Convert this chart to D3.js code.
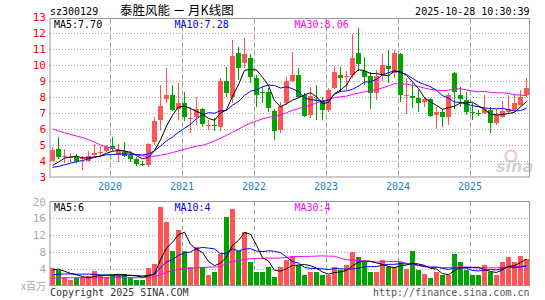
<!DOCTYPE html>
<html><head><meta charset="utf-8">
<script src="https://cdn.jsdelivr.net/npm/d3@7"></script>
<style>
body{margin:0;background:#fff;}
svg{display:block;font-family:"DejaVu Sans Mono",monospace;}
</style></head><body>
<div class="chart"></div>
<script>
// monthly bars, 2019-03 .. 2025-10
const months = [
  "2019-03","2019-04","2019-05","2019-06","2019-07","2019-08","2019-09","2019-10","2019-11","2019-12",
  "2020-01","2020-02","2020-03","2020-04","2020-05","2020-06","2020-07","2020-08","2020-09","2020-10","2020-11","2020-12",
  "2021-01","2021-02","2021-03","2021-04","2021-05","2021-06","2021-07","2021-08","2021-09","2021-10","2021-11","2021-12",
  "2022-01","2022-02","2022-03","2022-04","2022-05","2022-06","2022-07","2022-08","2022-09","2022-10","2022-11","2022-12",
  "2023-01","2023-02","2023-03","2023-04","2023-05","2023-06","2023-07","2023-08","2023-09","2023-10","2023-11","2023-12",
  "2024-01","2024-02","2024-03","2024-04","2024-05","2024-06","2024-07","2024-08","2024-09","2024-10","2024-11","2024-12",
  "2025-01","2025-02","2025-03","2025-04","2025-05","2025-06","2025-07","2025-08","2025-09","2025-10"
];
const open = [4.05,4.79,4.28,4.22,4.3,4.12,4.0,4.37,4.53,4.66,
  4.97,4.4,4.6,4.4,4.14,3.82,3.77,5.2,6.6,7.9,
  8.15,7.26,7.63,6.68,6.8,7.25,6.25,6.3,6.17,9.0,
  8.04,10.75,10.13,10.48,9.23,8.32,8.31,7.15,5.96,7.63,
  9.04,9.4,8.15,6.9,7.86,7.83,7.21,8.56,9.4,9.28,
  9.4,10.75,9.65,9.35,8.3,9.4,9.96,9.5,10.71,8.11,
  8.08,7.94,7.73,7.88,6.9,7.1,6.79,9.5,8.15,7.83,
  7.1,7.0,7.0,7.21,6.38,6.79,7.1,7.2,7.52,8.15];
const high = [4.87,5.5,4.8,4.5,4.45,4.35,4.65,5.1,4.95,5.0,
  5.55,5.1,5.2,4.65,4.3,4.0,5.12,6.8,8.74,9.86,
  8.78,8.88,8.35,7.4,8.05,7.35,6.58,6.7,9.19,9.92,
  11.58,11.17,11.73,10.69,9.4,8.67,8.56,7.27,7.73,9.29,
  10.85,9.81,8.25,8.67,8.77,8.04,8.56,9.98,9.92,9.65,
  11.94,12.35,10.54,9.56,9.7,10.7,10.96,10.96,10.79,9.19,
  8.88,8.46,8.04,7.98,7.42,7.25,8.29,9.6,8.67,8.35,
  7.63,7.2,8.15,7.42,7.27,7.77,8.15,8.19,8.46,9.23];
const low = [4.0,4.15,3.9,3.95,3.9,3.45,3.95,4.3,4.4,4.6,
  4.66,3.93,4.3,3.93,3.7,3.72,3.65,5.0,5.97,7.63,
  7.15,6.6,6.55,5.77,6.3,6.17,5.96,5.9,5.9,8.04,
  7.63,9.08,9.81,8.88,7.42,7.63,7.06,5.33,5.75,7.52,
  8.98,7.94,6.79,6.73,6.58,6.58,7.1,8.5,8.35,8.46,
  9.23,9.65,8.77,7.3,7.85,9.0,8.88,9.19,7.69,6.94,
  7.35,7.1,7.42,6.79,6.02,6.17,6.27,7.25,7.42,6.9,
  6.58,6.85,6.94,5.75,6.27,6.69,7.05,7.1,7.45,8.04];
const close = [4.7,4.3,4.32,4.27,4.0,4.18,4.35,4.55,4.57,4.87,
  4.78,4.66,4.35,4.14,3.85,3.78,5.1,6.5,7.47,8.15,
  7.2,7.63,6.8,6.72,7.28,6.31,6.3,6.2,9.0,8.3,
  10.58,9.85,10.69,9.29,8.15,8.27,7.31,5.9,7.46,9.04,
  9.4,8.04,6.85,8.1,7.8,7.21,8.46,9.6,9.19,9.33,
  10.44,10.06,9.3,8.3,9.35,10.0,9.75,10.79,8.15,8.15,
  7.98,7.67,7.9,6.85,7.06,6.79,8.15,8.35,7.9,7.1,
  7.0,6.96,7.25,6.38,6.9,7.15,7.25,7.63,8.04,8.6];
// volume, millions of shares
const volume = [4.2,3.7,2.0,1.2,1.7,2.0,2.3,3.5,2.5,2.0,
  2.5,2.8,2.8,2.0,1.2,1.2,4.2,5.2,18.8,15.2,
  8.1,13.2,8.25,4.4,9.1,4.3,2.5,3.3,7.5,16.3,
  18.25,8.25,12.8,5.5,3.2,3.3,4.3,2.0,4.3,6.1,
  7.1,4.9,2.5,3.1,3.1,2.4,2.5,4.4,3.7,4.9,
  7.9,6.9,5.7,3.3,3.1,6.1,4.4,4.4,5.5,4.0,
  8.1,3.6,2.8,1.9,3.3,2.5,2.4,7.6,5.5,3.6,
  2.5,2.5,4.9,3.1,2.5,5.7,6.7,5.5,7.1,6.3];

// moving-average values before a full window exists
const ma5Head = [3.75,3.95,4.2,4.27];
const ma10Head = [3.62,3.68,3.78,3.88,3.98,4.05,4.15,4.25,4.32];
const ma30Head = [6.02,5.9,5.78,5.68,5.58,5.48,5.36,5.2,5.02,4.9,
  4.82,4.72,4.6,4.5,4.4,4.33,4.3,4.32,4.38,4.45,
  4.55,4.65,4.75,4.85,4.95,5.0,5.12,5.27,5.44];
const vma5Head = [3.7,3.9,3.4,2.9];
const vma10Head = [2.5,2.7,2.75,2.75,2.7,2.7,2.7,2.65,2.5];
const vma30Head = [1.75,1.8,1.8,1.85,1.85,1.85,1.85,1.85,1.85,1.85,
  1.85,1.85,1.85,1.85,1.85,1.85,1.9,2.1,2.6,3.2,
  3.5,3.8,4.0,4.1,4.2,4.3,4.35,4.4,4.5];

const priceTicks = [3,4,5,6,7,8,9,10,11,12,13];
const volTicks = [4,8,12,16,20];
const yearTicks = ["2020-01","2021-01","2022-01","2023-01","2024-01","2025-01"];
const yearLabels = ["2020","2021","2022","2023","2024","2025"];
const priceMaLabels = ["MA5:7.70","MA10:7.28","MA30:8.06"];
const volMaLabels = ["MA5:6","MA10:4","MA30:4"];

const RED = "#ff5555", GREEN = "#00a400", GRID = "#a0a0a0";
const maColors = ["#000000","#0000ff","#ff00ff"];

const movingAvg = (vals, n, head) =>
  vals.map((v, i) => i < n - 1 ? head[i] : d3.mean(vals.slice(i - n + 1, i + 1)));

const svg = d3.select(".chart").append("svg")
  .attr("width", 545).attr("height", 300);

const left = 50, right = 529.5;
const x = d3.scaleBand().domain(months).range([50, 530]);
const cx = m => x(m) + 2.5;
const up = i => close[i] >= open[i];

// ---- header
svg.append("text").attr("x", 50).attr("y", 15).attr("font-size", 10).text("sz300129");
svg.append("text").attr("x", 120).attr("y", 15)
  .attr("font-family", "'Noto Sans CJK SC',sans-serif").attr("font-size", 12.5)
  .text("泰胜风能 － 月K线图");
svg.append("text").attr("x", right).attr("y", 15).attr("text-anchor", "end")
  .attr("font-size", 10).text("2025-10-28 10:30:39");

function panel(top, bottom, y, ticks, tickColor) {
  const g = svg.append("g");
  // horizontal dotted grid
  g.selectAll(".hg").data(ticks.filter(t => y(t) > top + 2 && y(t) < bottom - 2))
    .enter().append("line")
    .attr("x1", left).attr("x2", right)
    .attr("y1", d => Math.round(y(d)) + 0.5).attr("y2", d => Math.round(y(d)) + 0.5)
    .attr("stroke", GRID).attr("stroke-dasharray", "1,2");
  // year dashed lines
  g.selectAll(".vg").data(yearTicks).enter().append("line")
    .attr("x1", d => x(d) + 0.5).attr("x2", d => x(d) + 0.5)
    .attr("y1", top).attr("y2", bottom)
    .attr("stroke", GRID).attr("stroke-dasharray", "5,3");
  return g;
}

// ---- price panel
const pTop = 18.5, pBot = 177;
const y = d3.scaleLinear().domain([3, 13]).range([177.3, 17.3]);
panel(pTop, pBot, y, priceTicks);

const yAxis = svg.append("g").attr("transform", "translate(46,0)")
  .call(d3.axisLeft(y).tickValues(priceTicks).tickSize(0).tickPadding(0));
yAxis.select(".domain").remove();
yAxis.selectAll("text").attr("fill", "#ff0000")
  .attr("font-family", "'DejaVu Sans Mono',monospace").attr("font-size", 11);

svg.selectAll(".year").data(yearTicks).enter().append("text")
  .attr("x", d => x(d)).attr("y", 189.5).attr("text-anchor", "middle")
  .attr("font-size", 10).attr("fill", "#1a7fd0")
  .text((d, i) => yearLabels[i]);

// sina watermark
const wm = svg.append("g").attr("opacity", 0.55);
wm.append("circle").attr("cx", 511).attr("cy", 156).attr("r", 5.5)
  .attr("fill", "none").attr("stroke", "#f2a0a0").attr("stroke-width", 2.5);
wm.append("text").attr("x", 496).attr("y", 172)
  .attr("font-family", "'DejaVu Sans',sans-serif").attr("font-style", "italic")
  .attr("font-weight", "bold").attr("font-size", 16).attr("fill", "#b0b0b0").text("sina");

const idx = d3.range(months.length);
const cg = svg.append("g").attr("shape-rendering", "crispEdges");
cg.selectAll(".wick").data(idx).enter().append("line")
  .attr("x1", i => cx(months[i])).attr("x2", i => cx(months[i]))
  .attr("y1", i => y(high[i])).attr("y2", i => y(low[i]))
  .attr("stroke", i => up(i) ? RED : GREEN);
cg.selectAll(".body").data(idx).enter().append("rect")
  .attr("x", i => x(months[i])).attr("width", 5)
  .attr("y", i => y(Math.max(open[i], close[i])))
  .attr("height", i => Math.max(1, Math.abs(y(open[i]) - y(close[i]))))
  .attr("fill", i => up(i) ? RED : GREEN);

const priceMa = [movingAvg(close, 5, ma5Head), movingAvg(close, 10, ma10Head), movingAvg(close, 30, ma30Head)];
priceMa.slice().reverse().forEach((s, k) => {
  svg.append("path").datum(s)
    .attr("d", d3.line().x((d, i) => cx(months[i])).y(d => y(d)))
    .attr("fill", "none").attr("stroke", maColors[2 - k]).attr("stroke-width", 1);
});

svg.append("rect").attr("x", left).attr("y", pTop).attr("width", right - left).attr("height", pBot - pTop)
  .attr("fill", "none").attr("stroke", "#999");

const maX = [54, 174.5, 294.5];
priceMaLabels.forEach((t, k) => svg.append("text").attr("x", maX[k]).attr("y", 27.5)
  .attr("font-size", 10).attr("fill", maColors[k]).text(t));

// ---- volume panel
const vTop = 201.5, vBot = 285.5;
const vy = d3.scaleLinear().domain([0, 20]).range([vBot, vTop]);
panel(vTop, vBot, vy, volTicks);

const vAxis = svg.append("g").attr("transform", "translate(46,0)")
  .call(d3.axisLeft(vy).tickValues(volTicks).tickSize(0).tickPadding(0));
vAxis.select(".domain").remove();
vAxis.selectAll("text").attr("fill", "#aaaaaa")
  .attr("font-family", "'DejaVu Sans Mono',monospace").attr("font-size", 11);
svg.append("text").attr("x", 46).attr("y", 290).attr("text-anchor", "end")
  .attr("font-family", "'Noto Sans CJK SC',sans-serif").attr("font-size", 10)
  .attr("fill", "#aaaaaa").text("x百万");

svg.append("g").attr("shape-rendering", "crispEdges")
  .selectAll("rect").data(idx).enter().append("rect")
  .attr("x", i => x(months[i])).attr("width", 5)
  .attr("y", i => vy(volume[i])).attr("height", i => vBot - vy(volume[i]))
  .attr("fill", i => up(i) ? RED : GREEN);

const volMa = [movingAvg(volume, 5, vma5Head), movingAvg(volume, 10, vma10Head), movingAvg(volume, 30, vma30Head)];
volMa.slice().reverse().forEach((s, k) => {
  svg.append("path").datum(s)
    .attr("d", d3.line().x((d, i) => cx(months[i])).y(d => vy(d)))
    .attr("fill", "none").attr("stroke", maColors[2 - k]).attr("stroke-width", 1);
});

svg.append("rect").attr("x", left).attr("y", vTop).attr("width", right - left).attr("height", vBot - vTop)
  .attr("fill", "none").attr("stroke", "#999");

volMaLabels.forEach((t, k) => svg.append("text").attr("x", maX[k]).attr("y", 210.5)
  .attr("font-size", 10).attr("fill", maColors[k]).text(t));

// ---- footer
svg.append("text").attr("x", 50).attr("y", 296).attr("font-size", 10).attr("fill", "#333")
  .text("Copyright 2025 SINA.COM");
svg.append("text").attr("x", right).attr("y", 296).attr("text-anchor", "end")
  .attr("font-size", 10).attr("fill", "#555").text("http://finance.sina.com.cn");
</script>
</body></html>
